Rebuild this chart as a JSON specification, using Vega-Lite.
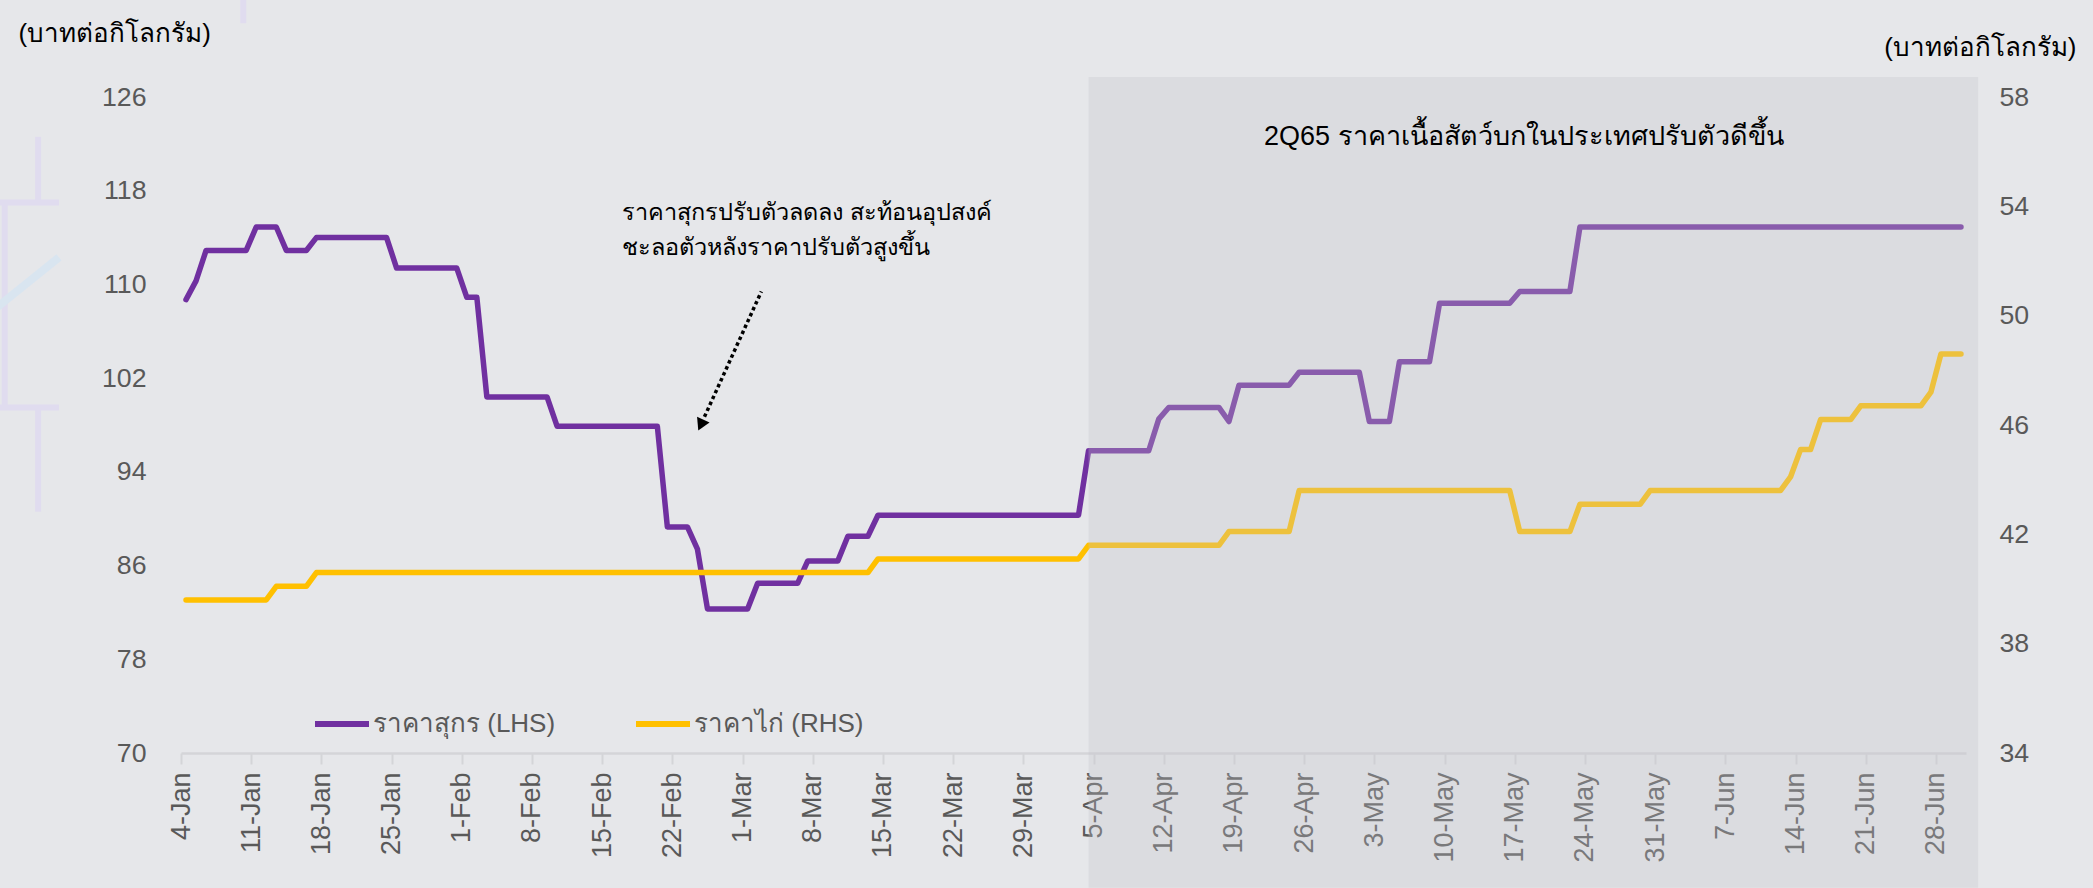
{
  "$schema": "https://vega.github.io/schema/vega-lite/v6.json",
  "width": 1785,
  "height": 656,
  "autosize": {"type": "none"},
  "padding": {"left": 181, "top": 97, "right": 127, "bottom": 135},
  "background": "#e6e7ea",
  "config": {"view": {"stroke": null}, "font": "Liberation Sans"},
  "datasets": {
    "prices": [
      {"date": "2022-01-04", "pork": 108.7, "chicken": 39.6},
      {"date": "2022-01-05", "pork": 110.3, "chicken": 39.6},
      {"date": "2022-01-06", "pork": 112.9, "chicken": 39.6},
      {"date": "2022-01-10", "pork": 112.9, "chicken": 39.6},
      {"date": "2022-01-11", "pork": 114.9, "chicken": 39.6},
      {"date": "2022-01-12", "pork": 114.9, "chicken": 39.6},
      {"date": "2022-01-13", "pork": 114.9, "chicken": 40.1},
      {"date": "2022-01-14", "pork": 112.9, "chicken": 40.1},
      {"date": "2022-01-16", "pork": 112.9, "chicken": 40.1},
      {"date": "2022-01-17", "pork": 114.0, "chicken": 40.6},
      {"date": "2022-01-24", "pork": 114.0, "chicken": 40.6},
      {"date": "2022-01-25", "pork": 111.4, "chicken": 40.6},
      {"date": "2022-01-31", "pork": 111.4, "chicken": 40.6},
      {"date": "2022-02-01", "pork": 108.9, "chicken": 40.6},
      {"date": "2022-02-02", "pork": 108.9, "chicken": 40.6},
      {"date": "2022-02-03", "pork": 100.4, "chicken": 40.6},
      {"date": "2022-02-09", "pork": 100.4, "chicken": 40.6},
      {"date": "2022-02-10", "pork": 97.9, "chicken": 40.6},
      {"date": "2022-02-20", "pork": 97.9, "chicken": 40.6},
      {"date": "2022-02-21", "pork": 89.3, "chicken": 40.6},
      {"date": "2022-02-23", "pork": 89.3, "chicken": 40.6},
      {"date": "2022-02-24", "pork": 87.4, "chicken": 40.6},
      {"date": "2022-02-25", "pork": 82.3, "chicken": 40.6},
      {"date": "2022-03-01", "pork": 82.3, "chicken": 40.6},
      {"date": "2022-03-02", "pork": 84.5, "chicken": 40.6},
      {"date": "2022-03-06", "pork": 84.5, "chicken": 40.6},
      {"date": "2022-03-07", "pork": 86.4, "chicken": 40.6},
      {"date": "2022-03-10", "pork": 86.4, "chicken": 40.6},
      {"date": "2022-03-11", "pork": 88.5, "chicken": 40.6},
      {"date": "2022-03-13", "pork": 88.5, "chicken": 40.6},
      {"date": "2022-03-14", "pork": 90.3, "chicken": 41.1},
      {"date": "2022-04-03", "pork": 90.3, "chicken": 41.1},
      {"date": "2022-04-04", "pork": 95.8, "chicken": 41.6},
      {"date": "2022-04-10", "pork": 95.8, "chicken": 41.6},
      {"date": "2022-04-11", "pork": 98.5, "chicken": 41.6},
      {"date": "2022-04-12", "pork": 99.5, "chicken": 41.6},
      {"date": "2022-04-17", "pork": 99.5, "chicken": 41.6},
      {"date": "2022-04-18", "pork": 98.3, "chicken": 42.1},
      {"date": "2022-04-19", "pork": 101.4, "chicken": 42.1},
      {"date": "2022-04-24", "pork": 101.4, "chicken": 42.1},
      {"date": "2022-04-25", "pork": 102.5, "chicken": 43.6},
      {"date": "2022-05-01", "pork": 102.5, "chicken": 43.6},
      {"date": "2022-05-02", "pork": 98.3, "chicken": 43.6},
      {"date": "2022-05-04", "pork": 98.3, "chicken": 43.6},
      {"date": "2022-05-05", "pork": 103.4, "chicken": 43.6},
      {"date": "2022-05-08", "pork": 103.4, "chicken": 43.6},
      {"date": "2022-05-09", "pork": 108.4, "chicken": 43.6},
      {"date": "2022-05-16", "pork": 108.4, "chicken": 43.6},
      {"date": "2022-05-17", "pork": 109.4, "chicken": 42.1},
      {"date": "2022-05-22", "pork": 109.4, "chicken": 42.1},
      {"date": "2022-05-23", "pork": 114.9, "chicken": 43.1},
      {"date": "2022-05-29", "pork": 114.9, "chicken": 43.1},
      {"date": "2022-05-30", "pork": 114.9, "chicken": 43.6},
      {"date": "2022-06-12", "pork": 114.9, "chicken": 43.6},
      {"date": "2022-06-13", "pork": 114.9, "chicken": 44.1},
      {"date": "2022-06-14", "pork": 114.9, "chicken": 45.1},
      {"date": "2022-06-15", "pork": 114.9, "chicken": 45.1},
      {"date": "2022-06-16", "pork": 114.9, "chicken": 46.2},
      {"date": "2022-06-19", "pork": 114.9, "chicken": 46.2},
      {"date": "2022-06-20", "pork": 114.9, "chicken": 46.7},
      {"date": "2022-06-26", "pork": 114.9, "chicken": 46.7},
      {"date": "2022-06-27", "pork": 114.9, "chicken": 47.2},
      {"date": "2022-06-28", "pork": 114.9, "chicken": 48.6},
      {"date": "2022-06-30", "pork": 114.9, "chicken": 48.6}
    ],
    "notes": [
      {"d": "2022-02-17T00:00:00Z", "v": 116.1, "t": "ราคาสุกรปรับตัวลดลง สะท้อนอุปสงค์", "s": 23.5},
      {"d": "2022-02-17T00:00:00Z", "v": 113.1, "t": "ชะลอตัวหลังราคาปรับตัวสูงขึ้น", "s": 23.5},
      {"d": "2022-04-22T00:00:00Z", "v": 122.6, "t": "2Q65 ราคาเนื้อสัตว์บกในประเทศปรับตัวดีขึ้น", "s": 27}
    ],
    "arrow": [
      {"d": "2022-03-02T21:00:00Z", "v": 109.4},
      {"d": "2022-02-25T04:48:00Z", "v": 98.7}
    ]
  },
  "layer": [
    {
      "data": {"name": "prices"},
      "mark": {"type": "line", "strokeWidth": 5.5, "strokeJoin": "round", "strokeCap": "round"},
      "encoding": {
        "x": {
          "field": "date", "type": "temporal", "timeUnit": "utcyearmonthdate", "bandPosition": 0.5,
          "scale": {"type": "utc", "domain": [{"year": 2022, "month": 1, "date": 4, "utc": true}, {"year": 2022, "month": 7, "date": 1, "utc": true}]},
          "axis": {
            "values": [
              {"year": 2022, "month": 1, "date": 4, "utc": true}, {"year": 2022, "month": 1, "date": 11, "utc": true},
              {"year": 2022, "month": 1, "date": 18, "utc": true}, {"year": 2022, "month": 1, "date": 25, "utc": true},
              {"year": 2022, "month": 2, "date": 1, "utc": true}, {"year": 2022, "month": 2, "date": 8, "utc": true},
              {"year": 2022, "month": 2, "date": 15, "utc": true}, {"year": 2022, "month": 2, "date": 22, "utc": true},
              {"year": 2022, "month": 3, "date": 1, "utc": true}, {"year": 2022, "month": 3, "date": 8, "utc": true},
              {"year": 2022, "month": 3, "date": 15, "utc": true}, {"year": 2022, "month": 3, "date": 22, "utc": true},
              {"year": 2022, "month": 3, "date": 29, "utc": true}, {"year": 2022, "month": 4, "date": 5, "utc": true},
              {"year": 2022, "month": 4, "date": 12, "utc": true}, {"year": 2022, "month": 4, "date": 19, "utc": true},
              {"year": 2022, "month": 4, "date": 26, "utc": true}, {"year": 2022, "month": 5, "date": 3, "utc": true},
              {"year": 2022, "month": 5, "date": 10, "utc": true}, {"year": 2022, "month": 5, "date": 17, "utc": true},
              {"year": 2022, "month": 5, "date": 24, "utc": true}, {"year": 2022, "month": 5, "date": 31, "utc": true},
              {"year": 2022, "month": 6, "date": 7, "utc": true}, {"year": 2022, "month": 6, "date": 14, "utc": true},
              {"year": 2022, "month": 6, "date": 21, "utc": true}, {"year": 2022, "month": 6, "date": 28, "utc": true}
            ],
            "labelExpr": "utcFormat(datum.value, '%-d-%b')", "title": null, "grid": false,
            "labelAngle": -90, "labelFontSize": 27, "labelColor": "#595959", "labelFont": "Liberation Sans",
            "labelPadding": 8, "labelOverlap": false, "labelFlush": false, "labelBound": false, "labelLimit": 0,
            "tickSize": 11, "tickColor": "#d4d5d8", "tickWidth": 2, "domainColor": "#d4d5d8", "domainWidth": 2.5
          }
        },
        "y": {
          "field": "pork", "type": "quantitative", "title": "(บาทต่อกิโลกรัม)",
          "scale": {"domain": [70, 126], "nice": false, "zero": false},
          "axis": {
            "orient": "left", "values": [70, 78, 86, 94, 102, 110, 118, 126], "domain": false, "ticks": false, "grid": false,
            "labelPadding": 35, "labelFontSize": 26.7, "labelColor": "#595959", "labelFont": "Liberation Sans",
            "titleAngle": 0, "titleX": -163, "titleY": -64, "titleAlign": "left", "titleBaseline": "middle",
            "titleFontSize": 26, "titleFontWeight": "normal", "titleColor": "#000000"
          }
        },
        "color": {
          "datum": "ราคาสุกร (LHS)",
          "scale": {"domain": ["ราคาสุกร (LHS)", "ราคาไก่ (RHS)"], "range": ["#7030a0", "#ffc000"]},
          "legend": {
            "orient": "none", "legendX": 131, "legendY": 597, "direction": "horizontal", "title": null,
            "symbolType": "stroke", "symbolSize": 2916, "symbolStrokeWidth": 6, "labelLimit": 0,
            "labelFontSize": 26, "labelColor": "#595959", "labelOffset": 1, "columnPadding": 68, "padding": 0
          }
        }
      }
    },
    {
      "data": {"name": "prices"},
      "mark": {"type": "line", "strokeWidth": 5.5, "strokeJoin": "round", "strokeCap": "round"},
      "encoding": {
        "x": {
          "field": "date", "type": "temporal", "timeUnit": "utcyearmonthdate", "bandPosition": 0.5,
          "scale": {"type": "utc", "domain": [{"year": 2022, "month": 1, "date": 4, "utc": true}, {"year": 2022, "month": 7, "date": 1, "utc": true}]}
        },
        "y": {
          "field": "chicken", "type": "quantitative", "title": "(บาทต่อกิโลกรัม)",
          "scale": {"domain": [34, 58], "nice": false, "zero": false},
          "axis": {
            "orient": "right", "values": [34, 38, 42, 46, 50, 54, 58], "domain": false, "ticks": false, "grid": false,
            "labelPadding": 33, "labelFontSize": 26.7, "labelColor": "#595959", "labelFont": "Liberation Sans",
            "titleAngle": 0, "titleX": 110, "titleY": -50, "titleAlign": "right", "titleBaseline": "middle",
            "titleFontSize": 26, "titleFontWeight": "normal", "titleColor": "#000000"
          }
        },
        "color": {
          "datum": "ราคาไก่ (RHS)",
          "scale": {"domain": ["ราคาสุกร (LHS)", "ราคาไก่ (RHS)"], "range": ["#7030a0", "#ffc000"]}
        }
      }
    },
    {
      "layer": [
        {
          "data": {"values": [{}]},
          "mark": {"type": "rect", "color": "#c4c5ca", "opacity": 0.3, "clip": false},
          "encoding": {
            "x": {"datum": {"year": 2022, "month": 4, "date": 4, "hours": 12, "utc": true}, "type": "temporal",
                  "scale": {"type": "utc", "domain": [{"year": 2022, "month": 1, "date": 4, "utc": true}, {"year": 2022, "month": 7, "date": 1, "utc": true}]}},
            "x2": {"datum": {"year": 2022, "month": 7, "date": 2, "hours": 5, "utc": true}},
            "y": {"datum": 127.7, "type": "quantitative", "scale": {"domain": [70, 126], "nice": false, "zero": false}, "axis": null},
            "y2": {"datum": 58.5}
          }
        },
        {
          "data": {"values": [{}]},
          "mark": {"type": "rule", "color": "#e0dcef", "strokeWidth": 6, "clip": false},
          "encoding": {
            "x": {"datum": {"year": 2021, "month": 12, "date": 20, "hours": 18, "utc": true}, "type": "temporal"},
            "y": {"datum": 122.6, "type": "quantitative"},
            "y2": {"datum": 117.0}
          }
        },
        {
          "data": {"values": [{}]},
          "mark": {"type": "rule", "color": "#e0dcef", "strokeWidth": 6, "clip": false},
          "encoding": {
            "x": {"datum": {"year": 2021, "month": 12, "date": 20, "hours": 18, "utc": true}, "type": "temporal"},
            "y": {"datum": 99.5, "type": "quantitative"},
            "y2": {"datum": 90.6}
          }
        },
        {
          "data": {"values": [{}]},
          "mark": {"type": "rule", "color": "#e0dcef", "strokeWidth": 6, "clip": false},
          "encoding": {
            "x": {"datum": {"year": 2021, "month": 12, "date": 17, "hours": 10, "utc": true}, "type": "temporal"},
            "y": {"datum": 117.0, "type": "quantitative"},
            "y2": {"datum": 99.5}
          }
        },
        {
          "data": {"values": [{}]},
          "mark": {"type": "rule", "color": "#e0dcef", "strokeWidth": 6, "clip": false},
          "encoding": {
            "x": {"datum": {"year": 2021, "month": 12, "date": 16, "hours": 0, "utc": true}, "type": "temporal"},
            "x2": {"datum": {"year": 2021, "month": 12, "date": 22, "hours": 20, "utc": true}},
            "y": {"datum": 117.0, "type": "quantitative"}
          }
        },
        {
          "data": {"values": [{}]},
          "mark": {"type": "rule", "color": "#e0dcef", "strokeWidth": 6, "clip": false},
          "encoding": {
            "x": {"datum": {"year": 2021, "month": 12, "date": 16, "hours": 0, "utc": true}, "type": "temporal"},
            "x2": {"datum": {"year": 2021, "month": 12, "date": 22, "hours": 20, "utc": true}},
            "y": {"datum": 99.5, "type": "quantitative"}
          }
        },
        {
          "data": {"values": [{}]},
          "mark": {"type": "rule", "color": "#d9e5f0", "strokeWidth": 8, "clip": false},
          "encoding": {
            "x": {"datum": {"year": 2021, "month": 12, "date": 16, "hours": 0, "utc": true}, "type": "temporal"},
            "x2": {"datum": {"year": 2021, "month": 12, "date": 22, "hours": 20, "utc": true}},
            "y": {"datum": 107.6, "type": "quantitative"},
            "y2": {"datum": 112.3}
          }
        },
        {
          "data": {"values": [{}]},
          "mark": {"type": "rule", "color": "#e0dcef", "strokeWidth": 6, "clip": false},
          "encoding": {
            "x": {"datum": {"year": 2022, "month": 1, "date": 10, "hours": 5, "utc": true}, "type": "temporal"},
            "y": {"datum": 134.5, "type": "quantitative"},
            "y2": {"datum": 132.3}
          }
        },
        {
          "data": {"name": "arrow"},
          "mark": {"type": "line", "color": "#000000", "strokeWidth": 3.5, "strokeDash": [3.5, 3]},
          "encoding": {
            "x": {"field": "d", "type": "temporal"},
            "y": {"field": "v", "type": "quantitative"}
          }
        },
        {
          "data": {"values": [{}]},
          "mark": {"type": "point", "shape": "triangle-down", "filled": true, "color": "#000000", "size": 190, "angle": 25, "opacity": 1},
          "encoding": {
            "x": {"datum": {"year": 2022, "month": 2, "date": 24, "hours": 20, "utc": true}, "type": "temporal"},
            "y": {"datum": 98.0, "type": "quantitative"}
          }
        },
        {
          "data": {"name": "notes"},
          "mark": {"type": "text", "align": "left", "baseline": "middle", "color": "#000000"},
          "encoding": {
            "x": {"field": "d", "type": "temporal"},
            "y": {"field": "v", "type": "quantitative"},
            "text": {"field": "t"},
            "size": {"field": "s", "type": "quantitative", "scale": null, "legend": null}
          }
        }
      ]
    }
  ],
  "resolve": {"scale": {"y": "independent"}}
}
